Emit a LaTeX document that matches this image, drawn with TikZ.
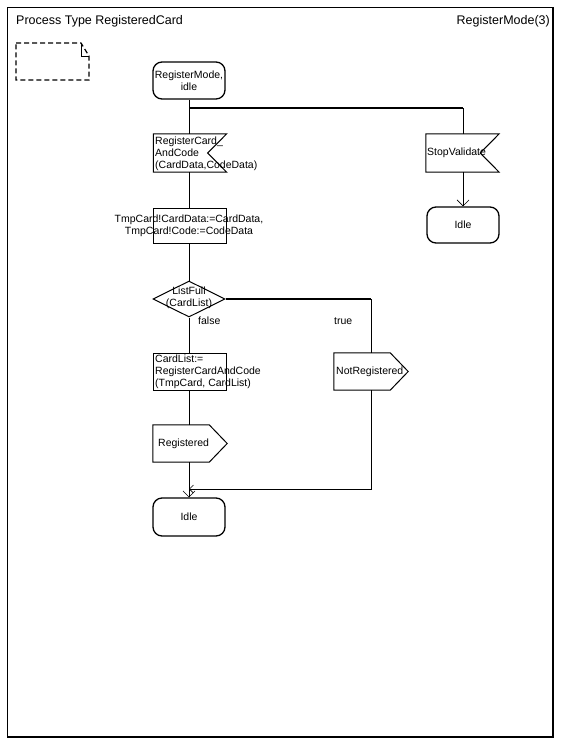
\documentclass[tikz,border=0pt]{standalone}
\usepackage{fontspec}
\setmainfont{Liberation Sans}
\usetikzlibrary{shapes.geometric,arrows.meta}

\begin{document}
\begin{tikzpicture}[x=1pt, y=-1pt, font=\fontsize{10.5}{12}\selectfont,
  >={Straight Barb[length=6pt,width=12pt]},
  box/.style={inner sep=0pt, minimum width=73pt, minimum height=37pt},
  sym/.style={box, draw, line width=1pt},
  state/.style={sym, line width=1.3pt, rounded corners=9pt, align=center},
  task/.style={sym},
  decision/.style={sym, diamond, aspect=2, minimum width=72pt, minimum height=36pt},
  insig/.style={box, append after command={\pgfextra{\draw[line width=1pt]
    (\tikzlastnode.north west) -- (\tikzlastnode.north east)
    -- ([xshift=-19pt]\tikzlastnode.east) -- (\tikzlastnode.south east)
    -- (\tikzlastnode.south west) -- cycle;}}},
  outsig/.style={box, append after command={\pgfextra{\draw[line width=1pt]
    (\tikzlastnode.north west) -- ([xshift=-18pt]\tikzlastnode.north east)
    -- (\tikzlastnode.east) -- ([xshift=-18pt]\tikzlastnode.south east)
    -- (\tikzlastnode.south west) -- cycle;}}},
  flow/.style={line width=0.6pt},
  branch/.style={line width=1.6pt},
  txt/.style={inner sep=0pt, align=left}]
  \def\cx{189}      % main column
  \def\rx{463}      % right column (StopValidate)
  \def\tx{371}      % true branch

  \useasboundingbox (0,0) rectangle (562,744);

  % ----- frame and heading -----
  \draw[line width=1pt] (7,7) rectangle (553,737);
  \draw[line width=2.5pt] (553,8) -- (553,737) -- (8,737);
  \node[anchor=base west, inner sep=0pt, font=\fontsize{12.5}{14}\selectfont] (title) at (16,24)
    {Process Type RegisteredCard};
  \node[anchor=base east, inner sep=0pt, font=\fontsize{12.5}{14}\selectfont] (page) at (550,24)
    {RegisterMode(3)};

  % dashed text symbol
  \draw[line width=1.2pt, dash pattern=on 5pt off 3pt]
    (16,43) -- (81,43) -- (89,56) -- (89,80) -- (16,80) -- cycle;
  \draw[line width=0.8pt] (81,43) -- (81,56) -- (89,56);

  % ----- symbols -----
  \node[state, minimum width=72pt] (start) at (\cx,80.5) {RegisterMode,\\idle};
  \node[insig, minimum height=38pt] (inp) at (190,153) {};
  \node[txt, anchor=north west] (inpT) at (155,137)
    {RegisterCard\_\\AndCode\\(CardData,CodeData)};
  \node[insig, minimum height=38pt] (stopV) at (462.5,153) {};
  \node[txt, anchor=west] (stopT) at (427,153) {StopValidate};
  \node[state, minimum width=72pt, minimum height=36pt] (idleR) at (\rx,225) {Idle};

  \node[task, minimum height=35pt] (set) at (190,225.5) {};
  \node[txt, align=center] (setT) at (\cx,226)
    {TmpCard!CardData:=CardData,\\TmpCard!Code:=CodeData};
  \node[decision] (full) at (\cx,299) {};
  \node[txt, align=center] (fullT) at (\cx,298) {ListFull\\(CardList)};
  \node[txt, anchor=west] (false) at (198,321) {false};
  \node[txt, anchor=west] (true) at (334,321) {true};

  \node[task] (add) at (190,371.5) {};
  \node[txt, anchor=north west] (addT) at (155,355)
    {CardList:=\\RegisterCardAndCode\\(TmpCard, CardList)};
  \node[outsig, minimum width=74pt] (notReg) at (\tx,371.5) {};
  \node[txt, anchor=west] (notRegT) at (336,371.5) {NotRegistered};
  \node[outsig, minimum width=74pt] (reg) at (190,443.5) {};
  \node[txt, anchor=west] (regT) at (158,443.5) {Registered};
  \node[state, minimum width=72pt, minimum height=38pt] (idle) at (\cx,517) {Idle};

  % ----- flow lines -----
  \coordinate (br) at (\cx,108);
  \coordinate (brR) at (\rx,108);
  \coordinate (brT) at (\tx,299);
  \coordinate (jn) at (\cx,489);
  \draw[flow] (start.south) -- (start.south |- inp.north);
  \draw[branch] (br) -- (brR);
  \draw[flow] (brR) -- (brR |- stopV.north);
  \draw[flow, ->] (stopV.south -| brR) -- (idleR.north -| brR);
  \draw[flow] (inp.south -| br) -- (set.north -| br);
  \draw[flow] (set.south -| br) -- (full.north);
  \draw[branch] (full.east) -- (brT);
  \draw[flow] (brT) -- (notReg.north);
  \draw[flow] (full.south) -- (add.north -| br);
  \draw[flow] (add.south -| br) -- (reg.north -| br);
  \draw[flow, ->] (reg.south -| br) -- (idle.north);
  \draw[flow, -{Straight Barb[length=4pt,width=8pt]}] (notReg.south) |- (jn);
\end{tikzpicture}
\end{document}
